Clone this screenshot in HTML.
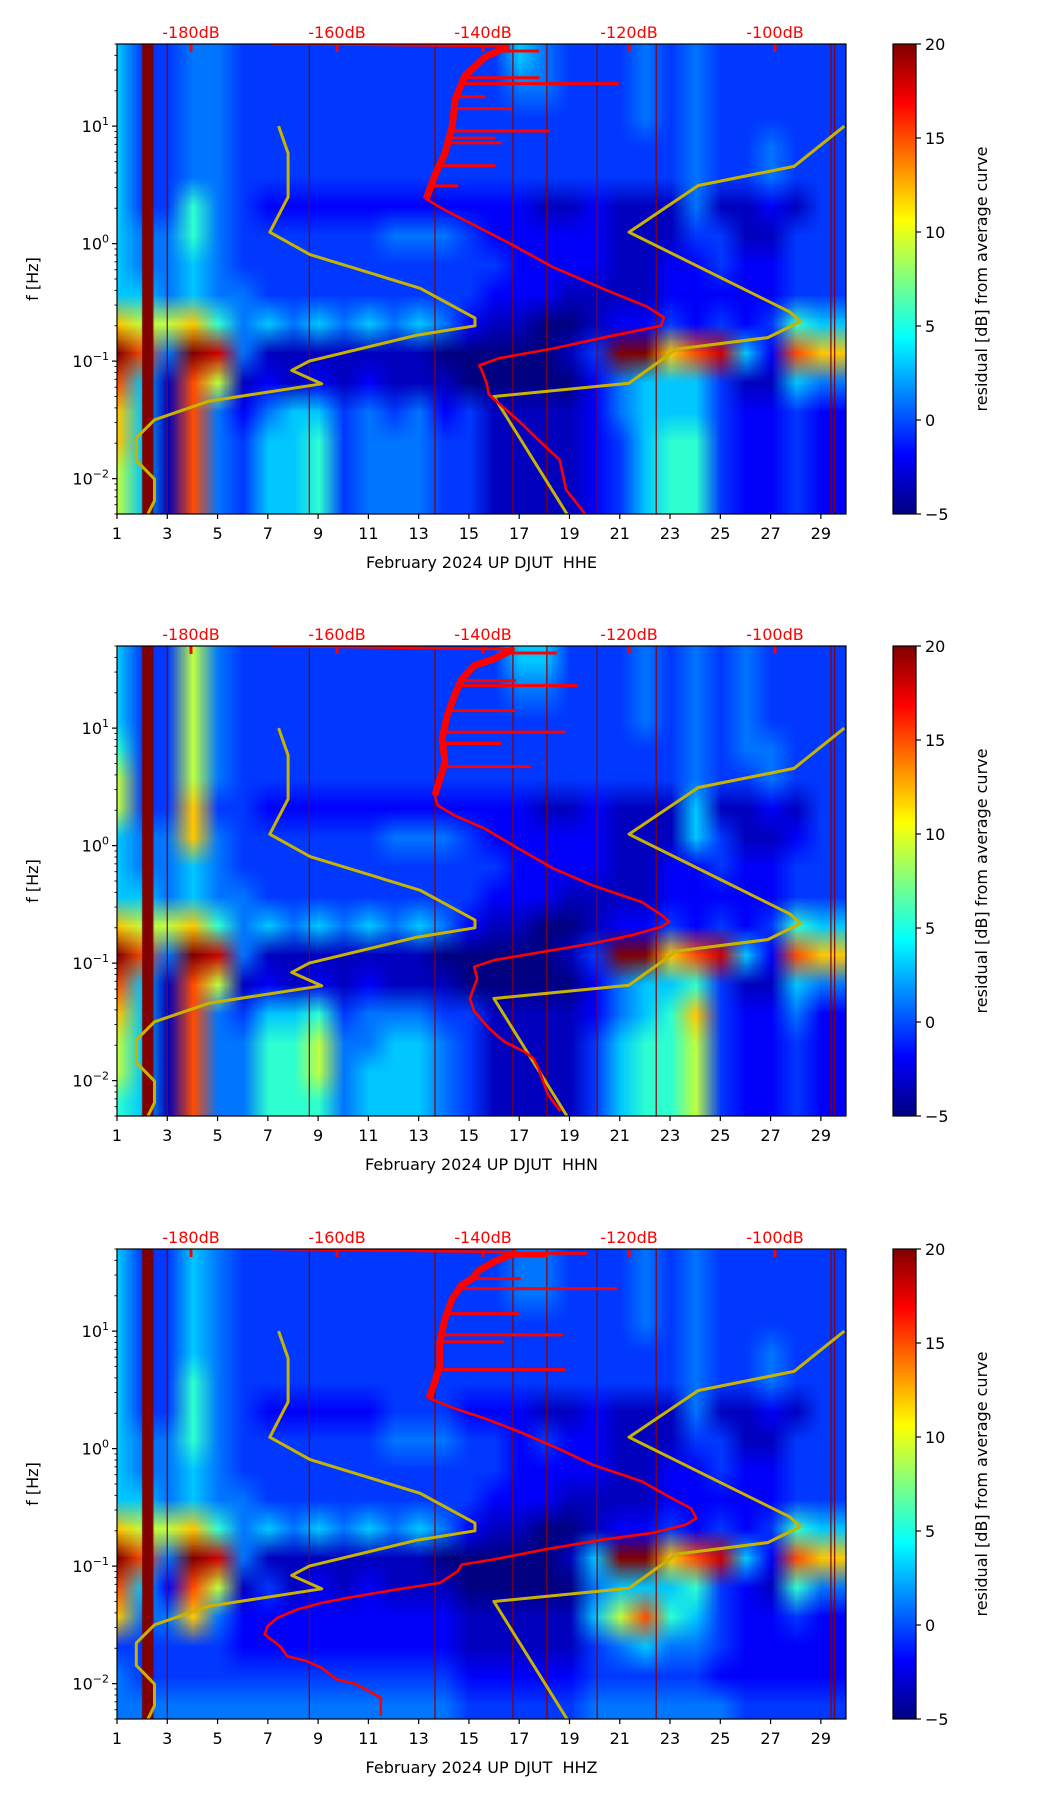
<!DOCTYPE html>
<html><head><meta charset="utf-8">
<style>
html,body{margin:0;padding:0;background:#fff;}
#wrap{position:relative;width:1052px;height:1806px;overflow:hidden;}
canvas{position:absolute;left:0;top:0;}
svg{position:absolute;left:0;top:0;}
text{font-family:"DejaVu Sans","Liberation Sans",sans-serif;white-space:pre;}
</style></head>
<body>
<div id="wrap">
<canvas id="cv" width="1052" height="1806"></canvas>
<svg id="sv" width="1052" height="1806" xmlns="http://www.w3.org/2000/svg"></svg>
</div>
<script>
// ---------- data ----------
const dayTicks = [1,3,5,7,9,11,13,15,17,19,21,23,25,27,29];
const dbTickValues = [-180,-160,-140,-120,-100];
const dbTickLabels = ['-180dB','-160dB','-140dB','-120dB','-100dB'];
const cbTicks = [20,15,10,5,0,-5];
const cbTickLabels = ['20','15','10','5','0','\u22125'];
const yDecades = [1,0,-1,-2];
const eventDays = [3.0,8.65,13.65,16.75,18.1,20.1,22.45,29.4,29.55];
const gapStart = 2.0, gapEnd = 2.45;
const channelNames = ['HHE','HHN','HHZ'];
const codeChars = ['0','1','2','3','4','5','6','7','8','9','a','b'];
const codeValues = [-5,-3.5,-2,-0.5,1,3,5.5,9,12,15,18,20];
const nlnmPeriod = [0.1,0.17,0.4,0.8,1.24,2.4,4.3,5,6,10,12,15.6,21.9,31.6,45,70,101,154,200];
const nlnmDB = [-168.0,-166.7,-166.7,-169.2,-163.7,-148.6,-141.1,-141.1,-149.0,-163.8,-166.2,-162.1,-177.5,-185.0,-187.5,-187.5,-185.0,-185.0,-185.9];
const nhnmPeriod = [0.1,0.22,0.32,0.8,3.8,4.6,6.3,7.9,15.4,20,200];
const nhnmDB = [-90.5,-97.4,-110.5,-120.0,-98.0,-96.5,-101.0,-113.5,-120.0,-138.5,-128.5];

// spectrogram grids: 16 rows (quarter decades from 50 Hz down), 29 columns (centred on days 1..29)
const grid1 = [
"53344333333333335433343433333",
"53344333333333334433343433333",
"53344333333333333333343433333",
"53344333333333333333333433433",
"53344333333333333333333433433",
"53364322222222222112111411213",
"54464333333444322222111331133",
"54454333333333332222112232233",
"55454433333333322211112222233",
"87786454545454211001223232365",
"b94ba411111110000013bb89a5298",
"95197121212111000002455531154",
"85194245534342311112455532232",
"85194355634443311112356632232",
"75194355634443311112356632232",
"75194355634443311112356632232"];
const grid2 = [
"53374333333333335533343434333",
"53374333333333334433343434333",
"53374333333333333333343434333",
"63374333333333333333333434433",
"73374333333333333333333433433",
"73383322222222222112111511213",
"54484333333444322222111531123",
"54454333333333332222112232233",
"55454433333333322211112222233",
"87786454545454211001223232365",
"b94ba411111110000013bb89a5298",
"95197121212111000002455631154",
"85194355634443311112456832242",
"75194466744554311113566732232",
"75194466745554311113566732232",
"65194466645554311113566732232"];
const grid3 = [
"53354333333333334433343433333",
"53354333333333334433343433333",
"53354333333333333333343433333",
"53354333333333333333333433433",
"53364333333333333333333433433",
"53364322222333222112111411213",
"54464333333444332322111331133",
"54454333333333332222112232233",
"55454433333333322211112222233",
"87786454545454211001223232365",
"b94ba411111110000015bb89a5298",
"95297131212111000004555632164",
"84484222222222111115796532232",
"33333222222222111113454432222",
"43333333333333222223333322222",
"44444444444444333334444443333"];

const red1F = [50,48,38.8,26.7,17.1,10.1,5.9,3.8,2.4,1.93,0.98,0.63,0.40,0.29,0.235,0.20,0.161,0.128,0.106,0.092,0.082,0.065,0.052,0.031,0.021,0.0145,0.008,0.005];
const red1DB = [-169,-136.5,-139.7,-142.5,-143.8,-144.2,-145.2,-146.6,-147.8,-145.2,-136,-130.4,-123,-117.5,-115.2,-115.6,-123,-130.4,-137.8,-140.5,-140.1,-139.5,-139.2,-135.1,-132.3,-129.5,-128.6,-126];
const spike1F = [43.6,25.8,23,17.8,14.1,9.1,7.9,7.2,4.6,3.1];
const spike1DB = [-132.3,-132.3,-121.4,-139.7,-136,-130.9,-138.3,-137.4,-138.3,-143.4];

const red2F = [50,47,38.8,34,26.2,18.9,12.8,8.1,5.1,3.7,2.68,2.2,1.81,1.40,0.94,0.64,0.46,0.33,0.256,0.225,0.204,0.173,0.147,0.125,0.106,0.093,0.074,0.050,0.039,0.028,0.0215,0.0177,0.0155,0.0128,0.0099,0.0076,0.0055];
const red2DB = [-169,-135.8,-138.5,-141.2,-142.9,-143.9,-144.9,-145.6,-145.2,-145.9,-146.6,-146.2,-143.9,-139.8,-135.1,-130.4,-125.0,-118.2,-115.5,-114.5,-115.5,-119.6,-125.0,-131.7,-138.5,-141.2,-140.8,-141.8,-141.2,-139.2,-137.1,-134.4,-133.1,-132.4,-131.8,-131.1,-129.4];
const spike2F = [43.6,25.3,23,14.1,9.25,7.4,4.7];
const spike2DB = [-129.9,-135.5,-127,-135.5,-128.7,-137.5,-133.4];

const red3F = [50,47,38.8,33,28,24.6,18.9,12.8,8.1,5.1,3.7,2.68,2.2,1.81,1.40,1.0,0.73,0.525,0.38,0.31,0.256,0.225,0.191,0.168,0.138,0.114,0.103,0.090,0.072,0.063,0.0536,0.0486,0.0427,0.0362,0.0308,0.0262,0.0208,0.0171,0.0155,0.0136,0.0109,0.0099,0.0076,0.0053];
const red3DB = [-169,-135.4,-138.5,-140.5,-141.5,-142.9,-144.2,-145.2,-145.9,-145.9,-146.6,-147.4,-143.9,-139.8,-135.1,-129.7,-125.0,-118.2,-114.2,-111.5,-110.8,-112.2,-116.9,-123.6,-131.7,-138.5,-142.9,-143.5,-145.9,-152.0,-158.7,-162.1,-165.5,-168.2,-169.5,-169.9,-167.8,-166.8,-164.1,-162.1,-160.1,-157.4,-154.0,-154.0];
const spike3F = [46,43.6,28,23,14.1,9.3,8.1,4.7];
const spike3DB = [-125.7,-131.1,-134.8,-121.6,-135.1,-129,-137.1,-128.7];

// ---------- layout ----------
const L = 117, R = 846, W = R - L, H = 470;
const tops = [44, 646, 1249];
const CBX = 893, CBW = 23;
const FMAX = 50, FMIN = 0.005;
const NS = 'http://www.w3.org/2000/svg';
const svg = document.getElementById('sv');
const ctx = document.getElementById('cv').getContext('2d');

function xDay(d){ return L + (d - 1) / 29 * W; }
function xDB(db){ return 191 + (db + 180) * 7.3; }
function yF(top, f){ return top + (Math.log10(FMAX) - Math.log10(f)) / (Math.log10(FMAX) - Math.log10(FMIN)) * H; }
function yCB(top, v){ return top + (20 - v) / 25 * H; }
function jet(t){
  t = Math.max(0, Math.min(1, t));
  const c = x => Math.round(255 * Math.max(0, Math.min(1, x)));
  return [c(1.5 - Math.abs(4*t - 3)), c(1.5 - Math.abs(4*t - 2)), c(1.5 - Math.abs(4*t - 1))];
}
function mk(tag, attrs, parent){
  const e = document.createElementNS(NS, tag);
  for (const k in attrs) e.setAttribute(k, attrs[k]);
  (parent || svg).appendChild(e);
  return e;
}
function codeVal(ch){ return codeValues[codeChars.indexOf(ch)]; }

const defs = mk('defs', {});
const grad = mk('linearGradient', {id:'jetg', x1:0, y1:1, x2:0, y2:0}, defs);
for (let i = 0; i <= 16; i++){
  const c = jet(i/16);
  mk('stop', {offset:(i/16*100)+'%', 'stop-color':'rgb('+c.join(',')+')'}, grad);
}

const grids = [grid1, grid2, grid3];
const redFs = [red1F, red2F, red3F], redDBs = [red1DB, red2DB, red3DB];
const spFs = [spike1F, spike2F, spike3F], spDBs = [spike1DB, spike2DB, spike3DB];

function interpDB(F, D, f){
  const lf = Math.log10(f);
  for (let i = 1; i < F.length; i++){
    const a = Math.log10(F[i-1]), b = Math.log10(F[i]);
    if ((lf <= a && lf >= b)){
      const t = (lf - a) / (b - a);
      return D[i-1] + t * (D[i] - D[i-1]);
    }
  }
  return D[1];
}

tops.forEach((top, p) => {
  const g = grids[p];
  const NC = 31; // pad columns at both edges
  const sc = document.createElement('canvas');
  sc.width = NC; sc.height = g.length;
  const sctx = sc.getContext('2d');
  const img = sctx.createImageData(NC, g.length);
  for (let r = 0; r < g.length; r++){
    for (let c = 0; c < NC; c++){
      const src = Math.max(0, Math.min(28, c - 1));
      const v = codeVal(g[r][src]);
      const col = jet((v + 5) / 25);
      const k = (r * NC + c) * 4;
      img.data[k] = col[0]; img.data[k+1] = col[1]; img.data[k+2] = col[2]; img.data[k+3] = 255;
    }
  }
  sctx.putImageData(img, 0, 0);
  ctx.save();
  ctx.beginPath(); ctx.rect(L, top, W, H); ctx.clip();
  ctx.imageSmoothingEnabled = true;
  // column c covers days (c-0.5 .. c+0.5) where c = index (0 => day 0)
  ctx.drawImage(sc, 0, 0, NC, g.length, xDay(-0.5), top, xDay(30.5) - xDay(-0.5), H);
  ctx.fillStyle = '#800000';
  ctx.fillRect(xDay(gapStart), top, xDay(gapEnd) - xDay(gapStart), H);
  ctx.restore();

  const grp = mk('g', {});
  
  

  const clip = mk('clipPath', {id:'clip'+p}, defs);
  mk('rect', {x:L, y:top, width:W, height:H}, clip);
  const plot = mk('g', {'clip-path':'url(#clip'+p+')'}, grp);
  
  

  eventDays.forEach(d => {
    const ln = mk('line', {x1:xDay(d), x2:xDay(d), y1:top, y2:top+H, stroke:'#8b0000', 'stroke-width':1.2}, plot);
    
    
  });

  [[nlnmPeriod, nlnmDB, 'nlnm-curve'], [nhnmPeriod, nhnmDB, 'nhnm-curve']].forEach(([P, D, nm]) => {
    const pts = P.map((per, i) => xDB(D[i]).toFixed(1) + ',' + yF(top, 1/per).toFixed(1)).join(' ');
    const pl = mk('polyline', {points:pts, fill:'none', stroke:'#c8b400', 'stroke-width':3, 'stroke-linejoin':'round'}, plot);
    
    
  });

  const F = redFs[p], D = redDBs[p];
  const pts = F.map((f, i) => xDB(D[i]).toFixed(1) + ',' + yF(top, f).toFixed(1)).join(' ');
  const rc = mk('polyline', {points:pts, fill:'none', stroke:'#ff0000', 'stroke-width':2.6, 'stroke-linejoin':'round'}, plot);
  
  
  const hiIdx = F.findIndex(f => f < 2.3);
  const hpts = F.slice(1, hiIdx).map((f, i) => xDB(D[i+1]).toFixed(1) + ',' + yF(top, f).toFixed(1)).join(' ');
  const hc = mk('polyline', {points:hpts, fill:'none', stroke:'#ff0000', 'stroke-width':7, 'stroke-linejoin':'round'}, plot);
  
  
  spFs[p].forEach((f, i) => {
    const base = interpDB(F, D, f);
    const s = mk('line', {x1:xDB(base), x2:xDB(spDBs[p][i]), y1:yF(top,f), y2:yF(top,f), stroke:'#ff0000', 'stroke-width':3}, plot);
    
    
  });
  dbTickValues.forEach((db, i) => {
    const t = mk('rect', {x:xDB(db)-1.5, y:top, width:3, height:8, fill:'#ff0000'}, plot);
    
    
    const tl = mk('text', {x:xDB(db), y:top-6, 'font-size':16, fill:'#ff0000', 'text-anchor':'middle'}, grp);
    tl.textContent = dbTickLabels[i];
    
    
  });

  const fr = mk('rect', {x:L, y:top, width:W, height:H, fill:'none', stroke:'#000', 'stroke-width':1.2}, grp);
  
  

  dayTicks.forEach(d => {
    mk('line', {x1:xDay(d), x2:xDay(d), y1:top+H, y2:top+H+5, stroke:'#000', 'stroke-width':1.2}, grp);
    const t = mk('text', {x:xDay(d), y:top+H+25, 'font-size':16, 'text-anchor':'middle', fill:'#000'}, grp);
    t.textContent = d;
    
    
  });
  const xl = mk('text', {x:(L+R)/2, y:top+H+54, 'font-size':16, 'text-anchor':'middle', fill:'#000'}, grp);
  xl.textContent = 'February 2024 UP DJUT  ' + channelNames[p];
  
  

  for (let k = -3; k <= 1; k++){
    for (let m = 1; m <= 9; m++){
      const f = m * Math.pow(10, k);
      if (f < FMIN || f > FMAX) continue;
      const y = yF(top, f);
      mk('line', {x1:L, x2:L-(m===1?5:2.5), y1:y, y2:y, stroke:'#000', 'stroke-width':m===1?1.2:0.9}, grp);
    }
  }
  yDecades.forEach(e => {
    const y = yF(top, Math.pow(10, e));
    const t = mk('text', {x:L-8, y:y+6, 'font-size':16, 'text-anchor':'end', fill:'#000'}, grp);
    
    
    const a = mk('tspan', {}, t); a.textContent = '10';
    const b = mk('tspan', {'font-size':11, dy:-7}, t); b.textContent = (e < 0 ? '\u2212' + (-e) : '' + e);
  });
  const yl = mk('text', {x:0, y:0, 'font-size':16, 'text-anchor':'middle', fill:'#000', transform:'translate(38,'+(top+H/2)+') rotate(-90)'}, grp);
  yl.textContent = 'f [Hz]';
  
  

  const cb = mk('rect', {x:CBX, y:top, width:CBW, height:H, fill:'url(#jetg)', stroke:'#000', 'stroke-width':1.2}, grp);
  
  
  cbTicks.forEach((v, i) => {
    const y = yCB(top, v);
    mk('line', {x1:CBX+CBW, x2:CBX+CBW+5, y1:y, y2:y, stroke:'#000', 'stroke-width':1.2}, grp);
    const t = mk('text', {x:CBX+CBW+9, y:y+6, 'font-size':16, fill:'#000'}, grp);
    t.textContent = cbTickLabels[i];
    
    
  });
  const cl = mk('text', {x:0, y:0, 'font-size':16, 'text-anchor':'middle', fill:'#000', transform:'translate(987,'+(top+H/2)+') rotate(-90)'}, grp);
  cl.textContent = 'residual [dB] from average curve';
  
  
});
</script>
</body></html>
